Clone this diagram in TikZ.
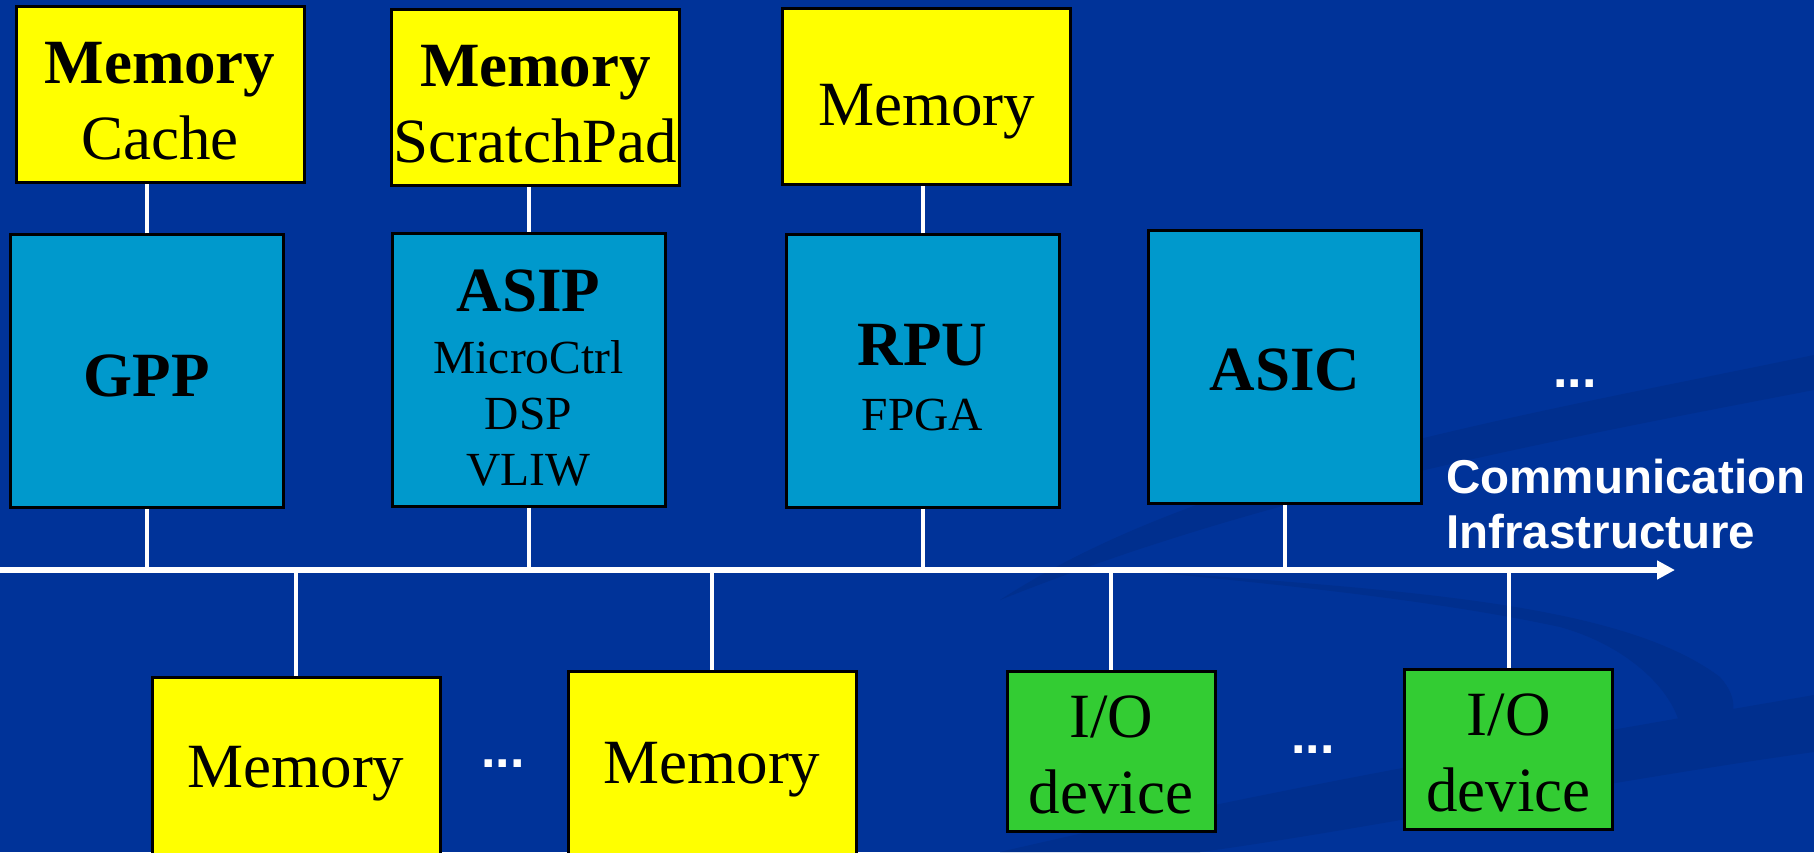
\documentclass[tikz,border=0pt]{standalone}
\usepackage{fontspec}
\setmainfont{Liberation Serif}
\newfontfamily\labelfont{Liberation Sans}
\usepackage{tikz}
\usetikzlibrary{arrows.meta}
\definecolor{slidebg}{HTML}{003399}
\definecolor{swoosh}{HTML}{002F8E}
\definecolor{memyellow}{HTML}{FFFF00}
\definecolor{publue}{HTML}{0099CC}
\definecolor{iogreen}{HTML}{33CC33}
\newcommand{\bigtxt}{\fontsize{31.5}{38}\selectfont}
\newcommand{\smalltxt}{\fontsize{23.75}{28}\selectfont}
\newcommand{\topgap}[1]{\rule{0pt}{#1}}

\begin{document}
\begin{tikzpicture}[x=0.5pt,y=0.5pt,
  box/.style={draw=black, line width=1.5pt, inner sep=0pt, align=center, font=\bigtxt},
  mem/.style={box, fill=memyellow, minimum width=144pt, minimum height=88pt},
  pu/.style={box, fill=publue, minimum width=136.5pt, minimum height=136.5pt},
  io/.style={box, fill=iogreen, minimum width=104pt, minimum height=80pt},
  link/.style={draw=white, line width=2pt},
  bus/.style={draw=white, line width=3pt, -{Triangle[length=9pt,width=9pt]}},
  dots/.style={text=white, inner sep=0pt, font=\labelfont\bfseries\fontsize{26}{26}\selectfont}]
\useasboundingbox (0,0) rectangle (1814,852);
\clip (0,0) rectangle (1814,852);
\fill[slidebg] (0,0) rectangle (1814,852);
% faint background swooshes
\fill[swoosh] (1000,252) .. controls (1200,382) and (1500,432) .. (1814,497)
  -- (1814,462) .. controls (1500,402) and (1250,352) .. (1000,252);
\fill[swoosh] (1130,282) .. controls (1400,262) and (1620,250) .. (1720,175)
  .. controls (1760,130) and (1700,100) .. (1675,92)
  .. controls (1700,130) and (1650,200) .. (1560,225)
  .. controls (1420,255) and (1250,270) .. (1130,282);
\fill[swoosh] (1000,0) .. controls (1300,70) and (1600,120) .. (1814,157)
  -- (1814,100) .. controls (1600,70) and (1350,20) .. (1200,0) -- cycle;

% processing units
\node (P1) at (146.5,480.5) [pu] {\topgap{25pt}\textbf{GPP}};
\node (P2) at (528.5,482) [pu, font=\smalltxt] {{\bigtxt\topgap{28.5pt}\textbf{ASIP}}\\[3pt]MicroCtrl\\DSP\\VLIW};
\node (P3) at (922.5,480.5) [pu, font=\smalltxt] {{\bigtxt\topgap{27pt}\textbf{RPU}}\\[4.5pt]FPGA};
\node (P4) at (1285,484.5) [pu] {\topgap{23.5pt}\textbf{ASIC}};

% local memories
\node (M1) at (160,757.5) [mem] {\topgap{27pt}\textbf{Memory}\\Cache};
\node (M2) at (535.5,754) [mem] {\topgap{27pt}\textbf{Memory}\\ScratchPad};
\node (M3) at (926.5,755) [mem] {\topgap{35pt}Memory};

% shared memories and devices
\node (M4) at (296,82) [mem, minimum height=93pt] {\topgap{24.5pt}Memory};
\node (M5) at (712,88) [mem, minimum height=93pt] {\topgap{26.5pt}Memory};
\node (D1) at (1111,101) [io] {\topgap{25pt}I/O\\device};
\node (D2) at (1508.5,103) [io] {\topgap{25pt}I/O\\device};

\node (T1) at (1575,468) [dots] {...};
\node (T2) at (503,88) [dots] {...};
\node (T3) at (1313,102) [dots] {...};

\node (L1) at (1446,393) [anchor=north west, inner sep=0pt, align=left, text=white,
  font=\labelfont\bfseries\fontsize{23.75}{27.5}\selectfont] {Communication\\Infrastructure};

% communication infrastructure
\coordinate (B0) at (0,282);
\coordinate (B1) at (1675,282);
\draw[bus] (B0) -- (B1);

\draw[link] (P1.north) -- (P1.north |- M1.south);
\draw[link] (P2.north) -- (P2.north |- M2.south);
\draw[link] (P3.north) -- (P3.north |- M3.south);
\draw[link] (P1.south) -- (P1.south |- B0);
\draw[link] (P2.south) -- (P2.south |- B0);
\draw[link] (P3.south) -- (P3.south |- B0);
\draw[link] (P4.south) -- (P4.south |- B0);
\draw[link] (M4.north) -- (M4.north |- B0);
\draw[link] (M5.north) -- (M5.north |- B0);
\draw[link] (D1.north) -- (D1.north |- B0);
\draw[link] (D2.north) -- (D2.north |- B0);
\end{tikzpicture}
\end{document}
